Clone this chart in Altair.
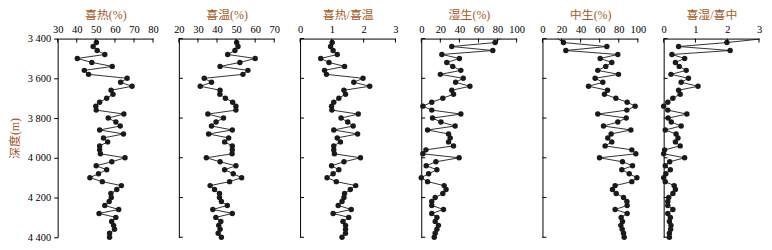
import altair as alt
import pandas as pd

# depth of each sample (m); the first one lies just above the plotted range
depth = [3396, 3420, 3440, 3460, 3480, 3500, 3520, 3540, 3560, 3580, 3600,
         3620, 3640, 3660, 3680, 3700, 3720, 3740, 3760, 3780, 3800,
         3820, 3840, 3860, 3880, 3900, 3920, 3940, 3960, 3980, 4000,
         4020, 4040, 4060, 4080, 4100, 4120, 4140, 4160, 4180, 4200,
         4220, 4240, 4260, 4280, 4300, 4320, 4340, 4360, 4380, 4400]

xire = [None, 50.3, 48.6, 50.7, 54.7, 40.3, 47.9, 58.6, 44.0, 46.2, 66.4,
        63.0, 69.0, 58.0, 59.0, 55.7, 52.0, 50.0, 50.2, 64.7, 56.5,
        60.5, 62.8, 52.0, 64.5, 54.0, 56.2, 52.0, 52.0, 52.4, 65.3,
        58.4, 50.2, 55.7, 51.4, 46.9, 53.4, 63.4, 61.0, 57.9, 58.1,
        57.0, 54.7, 62.0, 51.7, 60.5, 58.3, 59.3, 59.8, 57.2, 57.2]

xiwen = [None, 50.3, 51.0, 49.4, 45.6, 60.0, 52.0, 41.6, 56.2, 53.6, 33.3,
         37.1, 31.2, 41.6, 41.5, 44.4, 48.2, 49.9, 49.9, 35.2, 43.4,
         39.5, 37.1, 48.0, 35.6, 46.1, 44.0, 48.0, 48.0, 47.9, 34.4,
         41.6, 49.9, 44.0, 48.5, 52.9, 46.6, 36.4, 38.7, 41.3, 41.3,
         42.3, 45.4, 37.8, 48.0, 39.4, 42.0, 40.9, 41.6, 40.6, 42.3]

ratio1 = [None, 1.01, 0.96, 1.04, 1.17, 0.65, 0.91, 1.40, 0.77, 0.83, 1.98,
          1.69, 2.19, 1.38, 1.43, 1.22, 1.06, 0.99, 1.00, 1.83, 1.29,
          1.50, 1.67, 1.06, 1.81, 1.17, 1.27, 1.06, 1.06, 1.08, 1.90,
          1.38, 0.99, 1.22, 1.04, 0.85, 1.14, 1.75, 1.58, 1.40, 1.38,
          1.32, 1.20, 1.61, 1.04, 1.53, 1.35, 1.43, 1.43, 1.43, 1.32]

shisheng = [84.0, 77.4, 32.0, 75.0, 21.6, 40.0, 26.8, 33.0, 41.5, 20.0, 44.0,
            36.0, 51.0, 32.0, 33.8, 22.6, 11.0, 1.7, 11.0, 41.5, 11.8,
            20.6, 35.5, 6.6, 28.6, 30.3, 28.6, 33.8, 4.9, 1.7, 39.7,
            15.3, 5.2, 16.4, 7.7, 0.0, 6.6, 24.0, 26.0, 22.6, 14.6,
            11.0, 11.0, 23.3, 11.0, 16.4, 14.6, 18.0, 16.4, 14.6, 13.6]

zhongsheng = [14.7, 22.0, 67.5, 24.5, 79.0, 60.5, 72.7, 66.4, 58.0, 79.7, 55.2,
              63.3, 48.3, 68.2, 65.0, 77.0, 88.8, 97.2, 88.5, 58.0, 87.8,
              79.0, 64.0, 92.7, 72.0, 68.5, 72.7, 65.7, 93.7, 97.9, 59.8,
              83.9, 94.4, 83.2, 91.0, 99.0, 93.7, 76.2, 73.4, 77.3, 85.0,
              88.5, 88.8, 76.2, 88.8, 82.5, 83.9, 82.2, 83.6, 85.0, 85.7]

ratio2 = [3.39, 1.99, 0.47, 2.09, 0.26, 0.66, 0.37, 0.49, 0.71, 0.23, 0.78,
          0.55, 1.08, 0.47, 0.52, 0.29, 0.13, 0.00, 0.13, 0.73, 0.14,
          0.24, 0.55, 0.05, 0.39, 0.45, 0.37, 0.52, 0.03, 0.00, 0.66,
          0.19, 0.05, 0.21, 0.07, 0.00, 0.05, 0.33, 0.37, 0.29, 0.16,
          0.13, 0.13, 0.29, 0.13, 0.21, 0.18, 0.23, 0.22, 0.18, 0.18]

titles = ["喜热(%)", "喜温(%)", "喜热/喜温", "湿生(%)", "中生(%)", "喜湿/喜中"]
series = [xire, xiwen, ratio1, shisheng, zhongsheng, ratio2]
x_domains = [[30, 80], [20, 70], [0, 3], [0, 100], [0, 100], [0, 3]]
x_ticks = [[30, 40, 50, 60, 70, 80], [20, 30, 40, 50, 60, 70], [0, 1, 2, 3],
           [0, 20, 40, 60, 80, 100], [0, 20, 40, 60, 80, 100], [0, 1, 2, 3]]
y_ticks = [3400, 3600, 3800, 4000, 4200, 4400]

TITLE_COLOR = "#a5592a"
SERIF = "Liberation Serif, Noto Sans CJK SC"

yscale = alt.Scale(domain=[3400, 4400], reverse=True, nice=False, zero=False)

panels = []
for i, (title, vals, dom, xt) in enumerate(zip(titles, series, x_domains, x_ticks)):
    df = pd.DataFrame({"depth": depth, "v": vals}).dropna()
    xscale = alt.Scale(domain=dom, nice=False, zero=False)
    if i == 0:
        yaxis = alt.Axis(values=y_ticks, tickSize=4, labelPadding=3,
                         labelExpr="replace(format(datum.value, ','), ',', ' ')",
                         labelOverlap=False,
                         title="深度(m)", titleColor=TITLE_COLOR, titleFont=SERIF,
                         titleFontSize=12, titleFontWeight="normal", titlePadding=6,
                         labelFont=SERIF, labelFontSize=10.5, grid=False)
    else:
        yaxis = alt.Axis(values=y_ticks, ticks=False, labels=False, title=None,
                         grid=False)
    xaxis = alt.Axis(orient="top", values=xt, ticks=False, labelPadding=4,
                     labelOverlap=False,
                     title=title, titleColor=TITLE_COLOR, titleFont=SERIF,
                     titleFontSize=12, titleFontWeight="normal", titlePadding=3,
                     labelFont=SERIF, labelFontSize=10.5, grid=False,
                     labelFlush=False)
    base = alt.Chart(df)
    line = base.mark_line(color="#1a1a1a", strokeWidth=0.9, clip=True).encode(
        x=alt.X("v:Q", scale=xscale, axis=xaxis),
        y=alt.Y("depth:Q", scale=yscale, axis=yaxis),
        order="depth:Q",
    )
    pts = base.transform_filter("datum.depth >= 3410").mark_circle(
        color="#1a1a1a", size=30, opacity=1).encode(
        x=alt.X("v:Q", scale=xscale, axis=xaxis),
        y=alt.Y("depth:Q", scale=yscale, axis=yaxis),
    )
    xt_df = pd.DataFrame({"v": xt})
    xtick = alt.Chart(xt_df).mark_rule(color="black", strokeWidth=1).encode(
        x=alt.X("v:Q", scale=xscale, axis=xaxis),
        y=alt.value(0), y2=alt.value(4),
    )
    layers = [line, pts, xtick]
    if i > 0:
        yt_df = pd.DataFrame({"depth": y_ticks})
        ytick = alt.Chart(yt_df).mark_rule(color="black", strokeWidth=1).encode(
            y=alt.Y("depth:Q", scale=yscale, axis=yaxis),
            x=alt.value(0), x2=alt.value(4),
        )
        layers.append(ytick)
    panel = alt.layer(*layers).properties(width=96, height=200)
    panels.append(panel)

chart = alt.hconcat(*panels, spacing=26, bounds="flush").properties(
    padding={"left": 0, "top": 0, "right": 2, "bottom": 2}
).configure_view(stroke=None).configure_axis(
    domainColor="black", domainWidth=1, labelColor="black", tickColor="black"
)

chart.save("out.html", embed_options={"renderer": "svg", "actions": False})
